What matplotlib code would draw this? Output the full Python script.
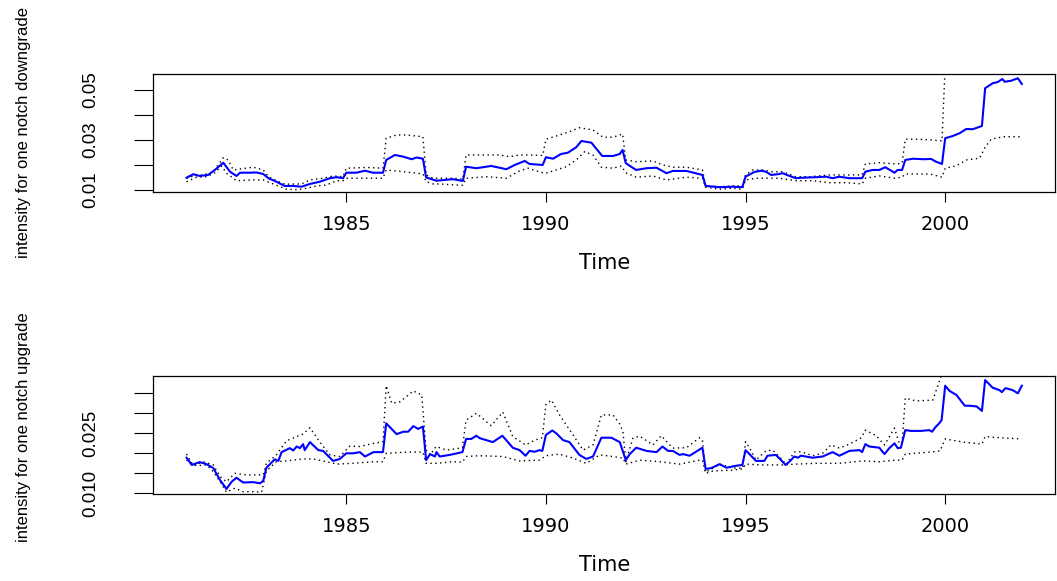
import matplotlib
matplotlib.use("Agg")
import matplotlib.pyplot as plt

# intensity for one notch downgrade: estimate (blue) and band (dotted)
dg_t = [1981.00, 1981.17, 1981.33, 1981.54, 1981.71, 1981.92, 1982.09, 1982.25, 1982.34, 1982.59,
        1982.75, 1982.92, 1983.05, 1983.25, 1983.46, 1983.67, 1983.88, 1984.09, 1984.34, 1984.59,
        1984.76, 1984.92, 1985.00, 1985.25, 1985.47, 1985.67, 1985.92, 1986.00, 1986.22, 1986.43,
        1986.64, 1986.76, 1986.92, 1987.00, 1987.26, 1987.67, 1987.92, 1988.00, 1988.26, 1988.63,
        1989.01, 1989.22, 1989.47, 1989.59, 1989.92, 1990.00, 1990.18, 1990.38, 1990.55, 1990.76,
        1990.89, 1991.14, 1991.41, 1991.68, 1991.85, 1991.92, 1992.00, 1992.26, 1992.52, 1992.77,
        1993.02, 1993.18, 1993.52, 1993.92, 1994.00, 1994.35, 1994.68, 1994.92, 1995.00, 1995.22,
        1995.39, 1995.51, 1995.64, 1995.81, 1995.93, 1996.10, 1996.26, 1996.43, 1996.77, 1997.02,
        1997.18, 1997.35, 1997.60, 1997.92, 1998.00, 1998.18, 1998.35, 1998.50, 1998.73, 1998.81,
        1998.92, 1999.00, 1999.19, 1999.44, 1999.65, 1999.77, 1999.92, 2000.00, 2000.19, 2000.36,
        2000.53, 2000.69, 2000.92, 2001.00, 2001.19, 2001.32, 2001.43, 2001.49, 2001.65, 2001.82,
        2001.92]
dg_v = [0.0149, 0.0163, 0.0156, 0.0160, 0.0180, 0.0209, 0.0173, 0.0156, 0.0169, 0.0169,
        0.0170, 0.0164, 0.0147, 0.0133, 0.0116, 0.0116, 0.0113, 0.0124, 0.0133, 0.0147,
        0.0151, 0.0147, 0.0169, 0.0169, 0.0177, 0.0169, 0.0169, 0.0220, 0.0240, 0.0233,
        0.0223, 0.0230, 0.0225, 0.0150, 0.0137, 0.0143, 0.0136, 0.0193, 0.0187, 0.0196,
        0.0183, 0.0200, 0.0216, 0.0204, 0.0200, 0.0231, 0.0225, 0.0244, 0.0249, 0.0271,
        0.0296, 0.0289, 0.0236, 0.0236, 0.0244, 0.0260, 0.0207, 0.0180, 0.0187, 0.0189,
        0.0167, 0.0176, 0.0176, 0.0160, 0.0116, 0.0111, 0.0113, 0.0111, 0.0153, 0.0172,
        0.0177, 0.0173, 0.0160, 0.0163, 0.0167, 0.0156, 0.0147, 0.0149, 0.0151, 0.0153,
        0.0147, 0.0153, 0.0147, 0.0147, 0.0173, 0.0180, 0.0180, 0.0191, 0.0169, 0.0180,
        0.0180, 0.0220, 0.0225, 0.0223, 0.0224, 0.0213, 0.0204, 0.0307, 0.0316, 0.0327,
        0.0344, 0.0343, 0.0356, 0.0507, 0.0527, 0.0532, 0.0544, 0.0533, 0.0537, 0.0547,
        0.0524]

dg_hi_t = [1981.00, 1981.17, 1981.42, 1981.67, 1981.92, 1982.04, 1982.17, 1982.34, 1982.67, 1982.92,
           1983.05, 1983.25, 1983.46, 1983.88, 1984.09, 1984.42, 1984.67, 1984.92, 1985.00, 1985.50,
           1985.92, 1986.00, 1986.26, 1986.51, 1986.92, 1987.00, 1987.17, 1987.67, 1987.92, 1988.00,
           1988.34, 1988.84, 1989.09, 1989.34, 1989.59, 1989.92, 1990.00, 1990.26, 1990.59, 1990.84,
           1991.18, 1991.43, 1991.68, 1991.92, 1992.00, 1992.26, 1992.68, 1992.93, 1993.18, 1993.52,
           1993.92, 1994.00, 1994.35, 1994.68, 1994.92, 1995.00, 1995.18, 1995.43, 1995.64, 1995.93,
           1996.26, 1996.60, 1997.10, 1997.52, 1997.92, 1998.00, 1998.35, 1998.77, 1998.92, 1999.00,
           1999.32, 1999.66, 1999.92, 2000.00, 2000.92, 2001.00, 2001.92]
dg_hi_v = [0.0147, 0.0156, 0.0160, 0.0173, 0.0229, 0.0220, 0.0180, 0.0184, 0.0191, 0.0180,
           0.0153, 0.0137, 0.0123, 0.0124, 0.0140, 0.0147, 0.0156, 0.0153, 0.0187, 0.0190,
           0.0187, 0.0307, 0.0320, 0.0320, 0.0313, 0.0160, 0.0147, 0.0147, 0.0143, 0.0240,
           0.0240, 0.0240, 0.0233, 0.0240, 0.0240, 0.0238, 0.0303, 0.0316, 0.0333, 0.0349,
           0.0340, 0.0311, 0.0311, 0.0324, 0.0220, 0.0213, 0.0216, 0.0200, 0.0191, 0.0191,
           0.0180, 0.0116, 0.0113, 0.0116, 0.0116, 0.0160, 0.0180, 0.0180, 0.0173, 0.0173,
           0.0153, 0.0153, 0.0160, 0.0160, 0.0160, 0.0204, 0.0209, 0.0204, 0.0207, 0.0303,
           0.0303, 0.0300, 0.0296, 0.0600, 0.0620, 0.0900, 0.0920]

dg_lo_t = [1981.00, 1981.25, 1981.50, 1981.71, 1981.88, 1982.00, 1982.25, 1982.67, 1982.92, 1983.17,
           1983.50, 1983.76, 1984.01, 1984.26, 1984.51, 1984.76, 1984.92, 1985.00, 1985.50, 1985.92,
           1986.00, 1986.43, 1986.92, 1987.00, 1987.18, 1987.34, 1987.84, 1987.92, 1988.00, 1988.51,
           1989.01, 1989.34, 1989.55, 1989.92, 1990.00, 1990.51, 1990.76, 1990.97, 1991.18, 1991.39,
           1991.68, 1991.89, 1992.00, 1992.26, 1992.68, 1993.02, 1993.52, 1993.92, 1994.00, 1994.35,
           1994.68, 1994.92, 1995.00, 1995.26, 1995.85, 1996.26, 1996.68, 1997.10, 1997.52, 1997.92,
           1998.00, 1998.35, 1998.73, 1998.92, 1999.00, 1999.61, 1999.92, 2000.00, 2000.27, 2000.53,
           2000.86, 2001.00, 2001.15, 2001.45, 2001.92]
dg_lo_v = [0.0133, 0.0151, 0.0153, 0.0169, 0.0196, 0.0167, 0.0137, 0.0140, 0.0140, 0.0124,
           0.0103, 0.0101, 0.0107, 0.0116, 0.0120, 0.0137, 0.0137, 0.0147, 0.0147, 0.0147,
           0.0180, 0.0173, 0.0164, 0.0133, 0.0124, 0.0124, 0.0119, 0.0119, 0.0147, 0.0153,
           0.0147, 0.0176, 0.0187, 0.0169, 0.0167, 0.0193, 0.0220, 0.0253, 0.0240, 0.0191,
           0.0187, 0.0196, 0.0169, 0.0151, 0.0156, 0.0140, 0.0151, 0.0147, 0.0111, 0.0103,
           0.0107, 0.0103, 0.0140, 0.0147, 0.0147, 0.0137, 0.0137, 0.0129, 0.0129, 0.0124,
           0.0147, 0.0156, 0.0147, 0.0151, 0.0164, 0.0164, 0.0151, 0.0187, 0.0196, 0.0220,
           0.0227, 0.0271, 0.0303, 0.0313, 0.0313]

# intensity for one notch upgrade
up_t = [1981.00, 1981.13, 1981.33, 1981.50, 1981.67, 1981.84, 1982.00, 1982.13, 1982.25, 1982.42,
        1982.67, 1982.84, 1982.92, 1983.00, 1983.21, 1983.30, 1983.38, 1983.59, 1983.67, 1983.76,
        1983.84, 1983.92, 1983.96, 1984.09, 1984.30, 1984.42, 1984.67, 1984.84, 1985.00, 1985.17,
        1985.34, 1985.47, 1985.68, 1985.92, 1986.00, 1986.26, 1986.43, 1986.55, 1986.68, 1986.80,
        1986.92, 1987.00, 1987.10, 1987.22, 1987.26, 1987.34, 1987.59, 1987.91, 1988.00, 1988.13,
        1988.26, 1988.34, 1988.67, 1988.91, 1989.17, 1989.34, 1989.49, 1989.59, 1989.72, 1989.84,
        1989.91, 1990.00, 1990.16, 1990.26, 1990.43, 1990.59, 1990.84, 1991.01, 1991.18, 1991.39,
        1991.64, 1991.85, 1991.93, 1992.00, 1992.10, 1992.26, 1992.52, 1992.77, 1992.92, 1993.06,
        1993.18, 1993.35, 1993.43, 1993.60, 1993.92, 1994.00, 1994.14, 1994.35, 1994.52, 1994.77,
        1994.92, 1995.00, 1995.10, 1995.26, 1995.47, 1995.55, 1995.76, 1995.89, 1996.00, 1996.10,
        1996.22, 1996.31, 1996.39, 1996.68, 1996.93, 1997.18, 1997.35, 1997.60, 1997.85, 1997.92,
        1998.00, 1998.10, 1998.35, 1998.48, 1998.60, 1998.73, 1998.81, 1998.89, 1999.00, 1999.15,
        1999.40, 1999.60, 1999.67, 1999.77, 1999.85, 1999.91, 2000.00, 2000.11, 2000.28, 2000.49,
        2000.62, 2000.79, 2000.92, 2001.00, 2001.19, 2001.36, 2001.42, 2001.51, 2001.69, 2001.82,
        2001.92]
up_v = [0.0189, 0.0171, 0.0178, 0.0173, 0.0163, 0.0133, 0.0111, 0.0129, 0.0139, 0.0127,
        0.0128, 0.0125, 0.0131, 0.0164, 0.0185, 0.0181, 0.0203, 0.0213, 0.0207, 0.0217,
        0.0213, 0.0223, 0.0208, 0.0228, 0.0208, 0.0206, 0.0181, 0.0186, 0.0200, 0.0200,
        0.0203, 0.0192, 0.0203, 0.0203, 0.0275, 0.0248, 0.0254, 0.0254, 0.0268, 0.0261,
        0.0267, 0.0183, 0.0198, 0.0192, 0.0203, 0.0192, 0.0196, 0.0203, 0.0236, 0.0236,
        0.0244, 0.0238, 0.0228, 0.0244, 0.0214, 0.0208, 0.0194, 0.0206, 0.0204, 0.0208,
        0.0206, 0.0246, 0.0257, 0.0250, 0.0233, 0.0228, 0.0196, 0.0186, 0.0192, 0.0239,
        0.0239, 0.0228, 0.0204, 0.0183, 0.0198, 0.0214, 0.0206, 0.0203, 0.0217, 0.0206,
        0.0206, 0.0196, 0.0198, 0.0194, 0.0214, 0.0161, 0.0163, 0.0173, 0.0164, 0.0169,
        0.0171, 0.0208, 0.0198, 0.0181, 0.0181, 0.0194, 0.0196, 0.0183, 0.0171, 0.0179,
        0.0192, 0.0189, 0.0194, 0.0189, 0.0192, 0.0203, 0.0194, 0.0206, 0.0208, 0.0203,
        0.0223, 0.0217, 0.0214, 0.0198, 0.0213, 0.0225, 0.0213, 0.0214, 0.0258, 0.0256,
        0.0256, 0.0258, 0.0254, 0.0267, 0.0275, 0.0283, 0.0369, 0.0356, 0.0346, 0.0319,
        0.0319, 0.0317, 0.0306, 0.0383, 0.0364, 0.0358, 0.0353, 0.0363, 0.0358, 0.0350,
        0.0369]

up_hi_t = [1981.00, 1981.17, 1981.42, 1981.67, 1981.84, 1982.00, 1982.21, 1982.50, 1982.92, 1983.00,
           1983.25, 1983.50, 1983.76, 1983.92, 1984.09, 1984.34, 1984.59, 1984.84, 1985.09, 1985.34,
           1985.68, 1985.92, 1986.00, 1986.14, 1986.35, 1986.68, 1986.89, 1987.00, 1987.10, 1987.25,
           1987.51, 1987.91, 1988.00, 1988.26, 1988.63, 1988.92, 1989.17, 1989.49, 1989.72, 1989.91,
           1990.00, 1990.14, 1990.34, 1990.68, 1990.93, 1991.18, 1991.39, 1991.68, 1991.85, 1991.93,
           1992.00, 1992.18, 1992.35, 1992.68, 1992.89, 1993.18, 1993.52, 1993.85, 1993.92, 1994.00,
           1994.19, 1994.35, 1994.68, 1994.93, 1995.00, 1995.10, 1995.26, 1995.51, 1995.68, 1995.93,
           1996.01, 1996.22, 1996.39, 1996.68, 1996.93, 1997.14, 1997.35, 1997.60, 1997.90, 1998.00,
           1998.27, 1998.48, 1998.73, 1998.85, 1998.92, 1999.00, 1999.27, 1999.69, 1999.85, 1999.92,
           2000.00, 2000.92, 2001.00, 2001.92]
up_hi_v = [0.0198, 0.0169, 0.0179, 0.0171, 0.0142, 0.0129, 0.0150, 0.0146, 0.0146, 0.0175,
           0.0196, 0.0231, 0.0242, 0.0248, 0.0264, 0.0228, 0.0196, 0.0192, 0.0218, 0.0217,
           0.0225, 0.0229, 0.0369, 0.0325, 0.0329, 0.0356, 0.0346, 0.0208, 0.0196, 0.0217,
           0.0208, 0.0214, 0.0283, 0.0300, 0.0269, 0.0303, 0.0242, 0.0221, 0.0233, 0.0239,
           0.0322, 0.0333, 0.0296, 0.0246, 0.0208, 0.0221, 0.0296, 0.0296, 0.0273, 0.0254,
           0.0179, 0.0238, 0.0243, 0.0221, 0.0244, 0.0213, 0.0214, 0.0239, 0.0233, 0.0153,
           0.0163, 0.0173, 0.0163, 0.0163, 0.0229, 0.0214, 0.0183, 0.0206, 0.0208, 0.0183,
           0.0171, 0.0203, 0.0204, 0.0194, 0.0200, 0.0221, 0.0213, 0.0223, 0.0239, 0.0258,
           0.0244, 0.0221, 0.0263, 0.0225, 0.0225, 0.0338, 0.0331, 0.0333, 0.0379, 0.0400,
           0.0470, 0.0450, 0.0520, 0.0520]

up_lo_t = [1981.00, 1981.25, 1981.50, 1981.67, 1981.84, 1982.00, 1982.21, 1982.42, 1982.67, 1982.88,
           1983.00, 1983.25, 1983.50, 1983.92, 1984.17, 1984.51, 1984.76, 1985.17, 1985.68, 1985.92,
           1986.00, 1986.51, 1986.92, 1987.00, 1987.26, 1987.67, 1987.91, 1988.00, 1988.34, 1988.92,
           1989.34, 1989.84, 1990.00, 1990.34, 1990.68, 1991.01, 1991.35, 1991.68, 1991.93, 1992.00,
           1992.35, 1992.85, 1993.35, 1993.85, 1993.92, 1994.00, 1994.19, 1994.68, 1994.93, 1995.00,
           1995.43, 1995.93, 1996.26, 1996.77, 1997.35, 1997.93, 1998.35, 1998.77, 1998.92, 1999.00,
           1999.60, 1999.87, 2000.00, 2000.45, 2000.92, 2001.00, 2001.36, 2001.92]
up_lo_v = [0.0183, 0.0169, 0.0171, 0.0154, 0.0129, 0.0103, 0.0113, 0.0104, 0.0104, 0.0103,
           0.0156, 0.0179, 0.0181, 0.0186, 0.0186, 0.0179, 0.0173, 0.0175, 0.0179, 0.0179,
           0.0200, 0.0203, 0.0203, 0.0175, 0.0175, 0.0179, 0.0178, 0.0192, 0.0194, 0.0192,
           0.0181, 0.0183, 0.0194, 0.0198, 0.0188, 0.0175, 0.0196, 0.0192, 0.0188, 0.0173,
           0.0183, 0.0179, 0.0173, 0.0183, 0.0183, 0.0150, 0.0156, 0.0158, 0.0161, 0.0173,
           0.0171, 0.0171, 0.0173, 0.0175, 0.0175, 0.0181, 0.0179, 0.0183, 0.0183, 0.0198,
           0.0203, 0.0206, 0.0236, 0.0228, 0.0223, 0.0242, 0.0239, 0.0236]

year_ticks = [1985, 1990, 1995, 2000]
dg_ticks = [0.01, 0.02, 0.03, 0.04, 0.05]
dg_labels = ["0.01", "", "0.03", "", "0.05"]
up_ticks = [0.010, 0.015, 0.020, 0.025, 0.030, 0.035]
up_labels = ["0.010", "", "", "0.025", "", ""]

W, H = 1057, 581
fig = plt.figure(figsize=(W / 100, H / 100), dpi=100)

panels = [
    (74, 191.7, dg_t, dg_v, dg_hi_t, dg_hi_v, dg_lo_t, dg_lo_v, (0.0093, 0.0564),
     dg_ticks, dg_labels, "intensity for one notch downgrade", 132.5, 263),
    (376, 494, up_t, up_v, up_hi_t, up_hi_v, up_lo_t, up_lo_v, (0.00983, 0.03933),
     up_ticks, up_labels, "intensity for one notch upgrade", 427, 565),
]

for (top, bot, t, v, ht, hv, lt, lv, ylim, yt, ylab, name, ly, tly) in panels:
    ax = fig.add_axes([153 / W, 1 - bot / H, (1055 - 153) / W, (bot - top) / H])
    ax.plot(ht, hv, color="black", lw=1.0, ls=(0, (1, 2.5)))
    ax.plot(lt, lv, color="black", lw=1.0, ls=(0, (1, 2.5)))
    ax.plot(t, v, color="blue", lw=1.5)
    ax.set_xlim(1980.16, 2002.75)
    ax.set_ylim(*ylim)
    ax.set_xticks(year_ticks)
    ax.set_xticklabels([str(y) for y in year_ticks], fontsize=14, family="DejaVu Sans")
    ax.set_yticks(yt)
    ax.set_yticklabels(ylab, rotation=90, va="center", fontsize=13.5, family="Liberation Sans")
    ax.tick_params(axis="x", length=7.2, width=0.8, pad=9.5)
    ax.tick_params(axis="y", length=13.5, width=0.8, pad=25)
    for s in ax.spines.values():
        s.set_linewidth(0.9)
    fig.text(605 / W, 1 - tly / H, "Time", ha="center", va="center",
             fontsize=15, family="DejaVu Sans")
    fig.text(24 / W, 1 - ly / H, name, ha="center", va="center", rotation=90,
             fontsize=12, family="Liberation Sans")

fig.savefig("out.png", dpi=100)
